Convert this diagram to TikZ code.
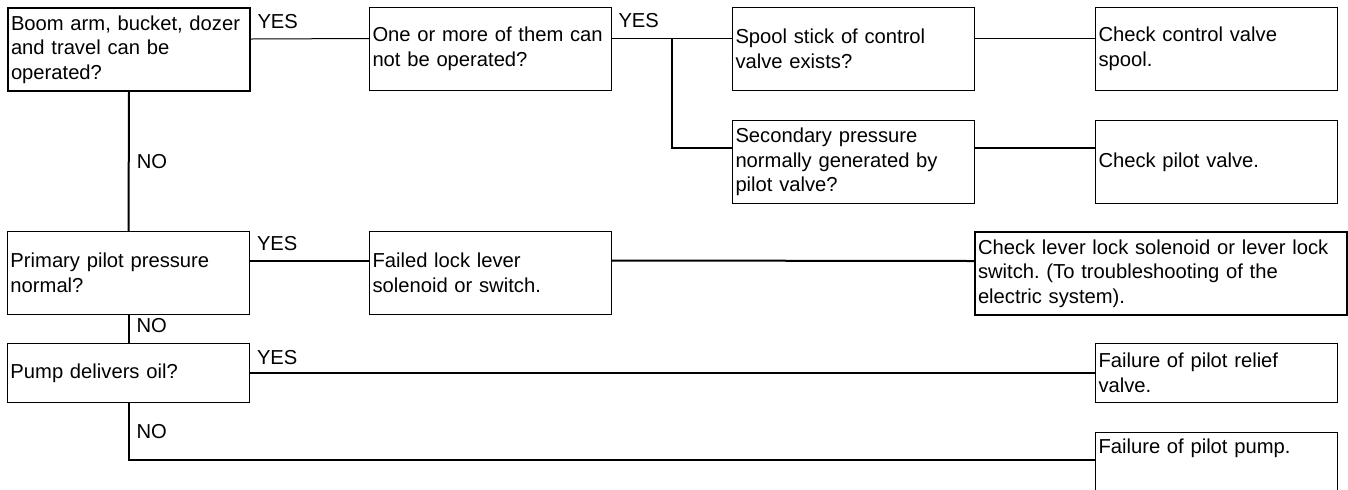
\documentclass[tikz,border=0pt]{standalone}
\usepackage{fontspec}
\setmainfont{Liberation Sans}
\frenchspacing
\tikzset{
  stepbox/.style={draw, line width=0.5pt, anchor=north west, minimum width=121pt,
    minimum height=41.5pt, text width=118pt, inner xsep=1.5pt, inner ysep=3pt,
    align=left, font=\fontsize{10.1}{12.3}\selectfont},
  answer/.style={inner sep=0pt, font=\fontsize{10.1}{12.3}\selectfont},
  yes/.style={answer, anchor=base west, xshift=3pt, yshift=5.5pt},
  no/.style={answer, anchor=west, xshift=3.5pt},
  thin link/.style={line width=0.5pt},
  heavy link/.style={line width=1pt}
}

\begin{document}
\begin{tikzpicture}[x=0.5pt,y=-0.5pt]
  \useasboundingbox (0,0) rectangle (1348,489);
  \node[stepbox, line width=1pt] (boom) at (7,7) {Boom arm, bucket, dozer\\and travel can be\\operated?};
  \node[stepbox] (oneormore) at (369,7) {One or more of them can\\not be operated?};
  \node[stepbox] (spool) at (732,7) {Spool stick of control\\valve exists?};
  \node[stepbox] (checkspool) at (1095,7) {Check control valve\\spool.};
  \node[stepbox] (secondary) at (732,120) {Secondary pressure\\normally generated by\\pilot valve?};
  \node[stepbox] (checkpilot) at (1095,120) {Check pilot valve.};
  \node[stepbox] (primary) at (7,231) {Primary pilot pressure\\normal?};
  \node[stepbox] (lockfail) at (369,231) {Failed lock lever\\solenoid or switch.};
  \node[stepbox, line width=1pt, minimum width=186pt, text width=183pt] (checklock) at (974,231)
    {Check lever lock solenoid or lever lock\\switch. (To troubleshooting of the\\electric system).};
  \node[stepbox, minimum height=29.5pt] (pumpoil) at (7,343) {Pump delivers oil?};
  \node[stepbox, minimum height=29.5pt] (reliefvalve) at (1095,343) {Failure of pilot relief\\valve.};
  \node[stepbox, minimum height=0pt, text height=7.5pt, text depth=40pt] (pilotpump) at (1095,432)
    {Failure of pilot pump.};

  \coordinate (fork) at ([xshift=30pt,yshift=5.25pt]oneormore.east);

  \draw[thin link] ([yshift=5.25pt]boom.east) -- node[pos=0, yes] {YES} ([yshift=5.25pt]oneormore.west);
  \draw[thin link] ([yshift=5.25pt]oneormore.east) -- node[pos=0, yes] {YES} ([yshift=5.25pt]spool.west);
  \draw[thin link] ([yshift=5.25pt]spool.east) -- ([yshift=5.25pt]checkspool.west);
  \draw[heavy link] (fork) |- ([yshift=7pt]secondary.west);
  \draw[heavy link] ([yshift=7pt]secondary.east) -- ([yshift=7pt]checkpilot.west);
  \draw[heavy link] (boom.south) -- node[midway, no] {NO} (primary.north);
  \draw[heavy link] ([yshift=6.25pt]primary.east) -- node[pos=0, yes, yshift=-0.5pt] {YES} ([yshift=6.25pt]lockfail.west);
  \draw[heavy link] ([yshift=6.25pt]lockfail.east) -- ([yshift=6.25pt]checklock.west);
  \draw[heavy link] (primary.south) -- node[midway, no, yshift=1.5pt] {NO} (pumpoil.north);
  \draw[heavy link] (pumpoil.east) -- node[pos=0, yes, yshift=-1pt] {YES} (reliefvalve.west);
  \draw[heavy link] (pumpoil.south) |- node[pos=0.25, no] {NO} ([yshift=-14pt]pilotpump.north west);
\end{tikzpicture}
\end{document}
